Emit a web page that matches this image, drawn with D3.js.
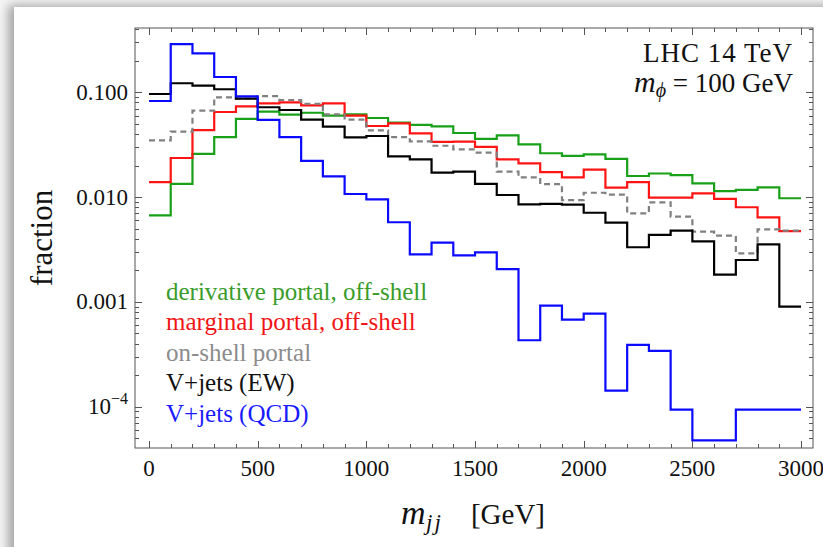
<!DOCTYPE html>
<html><head><meta charset="utf-8">
<script src="https://cdn.jsdelivr.net/npm/d3@7"></script>
<style>
html,body{margin:0;padding:0;width:823px;height:547px;overflow:hidden;background:#f6f6f6;}
#card{position:absolute;left:14px;top:7px;width:860px;height:600px;background:#fff;box-shadow:-6px -2px 10px rgba(0,0,0,0.33);}
svg{position:absolute;left:0;top:0;}
text{font-family:"Liberation Serif","Times New Roman",serif;}
</style></head><body><div id="card"></div><svg id="chart" width="823" height="547"></svg>
<script>
// bin lower edges (GeV), bin width 100
const binLo = [0,100,200,300,400,500,600,700,800,900,1000,1100,1200,1300,1400,1500,1600,1700,1800,1900,2000,2100,2200,2300,2400,2500,2600,2700,2800,2900];
const binHi = 3000;

const derivative = [0.0067,0.0134,0.0258,0.0374,0.0559,0.0653,0.0612,0.0638,0.0598,0.0617,0.0569,0.0513,0.0488,0.0474,0.0409,0.0360,0.0388,0.0318,0.0262,0.0247,0.0256,0.0232,0.0159,0.0168,0.0162,0.0135,0.0114,0.0117,0.0124,0.00975];
const marginal = [0.0139,0.0236,0.0436,0.0649,0.0735,0.0785,0.0803,0.0751,0.0785,0.0598,0.0477,0.0505,0.0406,0.0336,0.0338,0.0301,0.0229,0.0210,0.0173,0.0154,0.0183,0.0123,0.0139,0.00987,0.00987,0.01086,0.0096,0.0080,0.0064,0.00474];
const onshell = [0.0348,0.0421,0.0668,0.0896,0.0870,0.0920,0.0845,0.0778,0.0617,0.0548,0.0434,0.0374,0.0340,0.0309,0.0285,0.0266,0.0175,0.0154,0.0133,0.00937,0.0110,0.01054,0.0070,0.0089,0.0065,0.00468,0.00428,0.0029,0.00493,0.00478];
const vjetsEW = [0.0964,0.122,0.116,0.107,0.0869,0.0720,0.0678,0.0548,0.0470,0.0371,0.0383,0.0245,0.0229,0.0171,0.0175,0.0134,0.01047,0.00853,0.0086,0.00848,0.00709,0.0057,0.00332,0.00435,0.00478,0.00378,0.00182,0.00251,0.00354,0.0009];
const vjetsQCD = [0.0826,0.289,0.235,0.140,0.0916,0.0545,0.0374,0.0222,0.0158,0.0107,0.00953,0.00575,0.00284,0.00367,0.00278,0.00297,0.00205,0.00043,0.00092,0.000677,0.000772,0.000142,0.000388,0.00034,0.0000935,0.0000477,0.0000477,0.0000935,0.0000935,0.0000935];

const seriesNames = ["derivative portal, off-shell","marginal portal, off-shell","on-shell portal","V+jets (EW)","V+jets (QCD)"];
const xTickMajor = [0,500,1000,1500,2000,2500,3000];
const xTickLabels = ["0","500","1000","1500","2000","2500","3000"];
const yTickMajor = [1e-4,1e-3,1e-2,1e-1];
const yTickLabels = ["10^-4","0.001","0.010","0.100"];

const series = [
  {name:seriesNames[0], values:derivative, color:"#18a018", text:"#3a9c2a", dash:null},
  {name:seriesNames[1], values:marginal, color:"#ff1414", text:"#f01616", dash:null},
  {name:seriesNames[2], values:onshell, color:"#808080", text:"#8c8c8c", dash:"6,4"},
  {name:seriesNames[3], values:vjetsEW, color:"#000000", text:"#111111", dash:null},
  {name:seriesNames[4], values:vjetsQCD, color:"#0a0aff", text:"#1a1aff", dash:null}
];

const L=135, R=813, T=28, B=448;
const svg = d3.select("#chart");
const x = d3.scaleLinear().domain([-64.4,3055]).range([L,R]);
const y = d3.scaleLog().domain([4.03e-5,0.411]).range([B,T]);

svg.append("clipPath").attr("id","clip").append("rect")
  .attr("x",L).attr("y",T).attr("width",R-L).attr("height",B-T);

// lines
const line = d3.line().x(d=>x(d[0])).y(d=>y(d[1])).curve(d3.curveStepAfter);
const g = svg.append("g").attr("clip-path","url(#clip)");
series.forEach(s=>{
  const pts = binLo.map((b,i)=>[b,s.values[i]]).concat([[binHi,s.values[s.values.length-1]]]);
  g.append("path").attr("d",line(pts)).attr("fill","none")
    .attr("stroke",s.color).attr("stroke-width",2.2)
    .attr("stroke-dasharray",s.dash)
    .attr("stroke-linejoin","miter");
});

// frame
svg.append("rect").attr("x",L).attr("y",T).attr("width",R-L).attr("height",B-T)
  .attr("fill","none").attr("stroke","#555").attr("stroke-width",1);

// ticks
const tk = svg.append("g").attr("stroke","#555").attr("stroke-width",1);
const xMinor = d3.range(0,3001,100);
xMinor.forEach(v=>{
  const major = xTickMajor.includes(v);
  const len = major?7:4;
  const px = Math.round(x(v))+0.5;
  tk.append("line").attr("x1",px).attr("x2",px).attr("y1",B).attr("y2",B-len);
  tk.append("line").attr("x1",px).attr("x2",px).attr("y1",T).attr("y2",T+len);
});
const [ylo,yhi] = y.domain();
for(let e=-5;e<=0;e++){
  for(let k=1;k<=9;k++){
    const v=k*Math.pow(10,e);
    if(v<ylo||v>yhi) continue;
    const len = k===1?7:4;
    const py = Math.round(y(v))+0.5;
    tk.append("line").attr("x1",L).attr("x2",L+len).attr("y1",py).attr("y2",py);
    tk.append("line").attr("x1",R).attr("x2",R-len).attr("y1",py).attr("y2",py);
  }
}

// tick labels
const xl = svg.append("g").attr("font-size",23).attr("fill","#111").attr("text-anchor","middle");
xTickMajor.forEach((v,i)=>{
  xl.append("text").attr("x",x(v)).attr("y",476).text(xTickLabels[i]);
});
const yl = svg.append("g").attr("font-size",23).attr("fill","#111").attr("text-anchor","end");
yTickMajor.forEach((v,i)=>{
  const lab = yTickLabels[i];
  const t = yl.append("text").attr("x",128).attr("y",y(v)+7.5);
  if(lab.includes("^")){
    const [b,ex]=lab.split("^");
    t.append("tspan").text(b);
    t.append("tspan").attr("font-size",16).attr("dy",-10).text(ex.replace("-","\u2212"));
  } else t.text(lab);
});

// axis titles
svg.append("text").attr("transform","translate(52,238) rotate(-90)")
  .attr("text-anchor","middle").attr("font-size",31).attr("fill","#111").text("fraction");
const xt = svg.append("g").attr("fill","#111");
xt.append("text").attr("x",401).attr("y",524).attr("font-size",34).attr("font-style","italic").text("m");
xt.append("text").attr("x",426).attr("y",530).attr("font-size",23).attr("font-style","italic")
  .attr("letter-spacing",2).text("jj");
xt.append("text").attr("x",545).attr("y",524).attr("text-anchor","end").attr("font-size",29).text("[GeV]");

// annotation
svg.append("text").attr("x",793).attr("y",62).attr("text-anchor","end")
  .attr("font-size",27).attr("letter-spacing",1).attr("fill","#111").text("LHC 14 TeV");
const an = svg.append("text").attr("x",793).attr("y",92).attr("text-anchor","end")
  .attr("font-size",27).attr("fill","#111");
an.append("tspan").attr("font-style","italic").attr("font-size",30).text("m");
an.append("tspan").attr("font-style","italic").attr("font-size",20).attr("dy",5).text("\u03D5");
an.append("tspan").attr("dy",-5).text(" = 100 GeV");

// legend
const lg = svg.append("g").attr("font-size",25);
series.forEach((s,i)=>{
  lg.append("text").attr("x",166).attr("y",299.5+i*30.5).attr("fill",s.text).text(s.name);
});
</script></body></html>
